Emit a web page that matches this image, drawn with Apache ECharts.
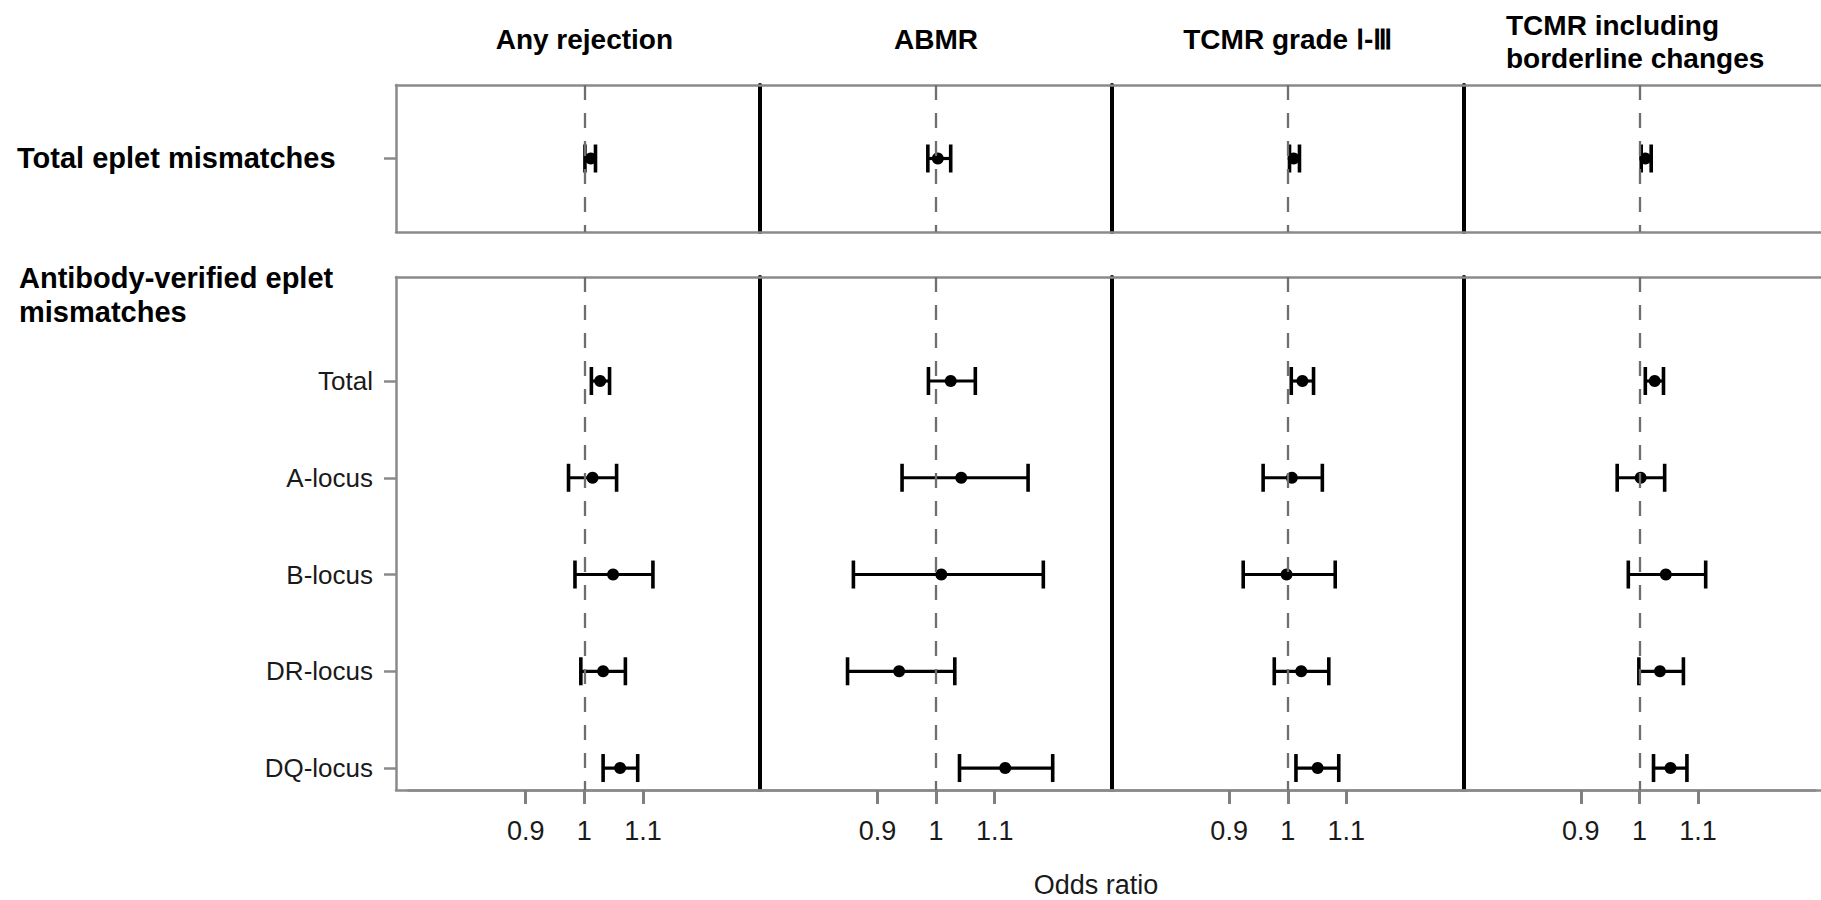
<!DOCTYPE html>
<html><head><meta charset="utf-8">
<script src="https://cdn.jsdelivr.net/npm/echarts@6/dist/echarts.min.js"></script>
<style>html,body{margin:0;padding:0;background:#fff}#c{width:1821px;height:900px}</style>
</head><body><div id="c"></div>
<script>
// ---------- data ----------
const outcomes = ['Any rejection', 'ABMR', 'TCMR grade Ⅰ-Ⅲ', 'TCMR including', 'borderline changes'];
const rows = ['Total', 'A-locus', 'B-locus', 'DR-locus', 'DQ-locus'];
const xTicks = [0.9, 1, 1.1];
const topRowLabel = 'Total eplet mismatches';
const bottomHeader = 'Antibody-verified eplet\nmismatches';
const xAxisName = 'Odds ratio';
const referenceOR = 1;

// Total eplet mismatches: one estimate per outcome
const totalEpletOR = [1.011, 1.003, 1.010, 1.010];
const totalEpletLo = [1.001, 0.986, 1.003, 1.003];
const totalEpletHi = [1.019, 1.025, 1.020, 1.020];

// Antibody-verified eplet mismatches (rows: Total, A, B, DR, DQ)
const anyRejOR = [1.027, 1.014, 1.049, 1.032, 1.061];
const anyRejLo = [1.012, 0.973, 0.984, 0.994, 1.032];
const anyRejHi = [1.043, 1.055, 1.117, 1.070, 1.091];

const abmrOR = [1.025, 1.043, 1.009, 0.937, 1.118];
const abmrLo = [0.987, 0.942, 0.859, 0.849, 1.040];
const abmrHi = [1.067, 1.157, 1.183, 1.032, 1.199];

const tcmrOR = [1.025, 1.007, 0.998, 1.023, 1.051];
const tcmrLo = [1.006, 0.958, 0.924, 0.977, 1.014];
const tcmrHi = [1.044, 1.059, 1.081, 1.070, 1.087];

const tcmrBlOR = [1.026, 1.002, 1.045, 1.035, 1.053];
const tcmrBlLo = [1.010, 0.962, 0.981, 0.999, 1.024];
const tcmrBlHi = [1.041, 1.043, 1.113, 1.075, 1.081];

// ---------- layout / style ----------
const FONT = '"Liberation Sans", Arial, Helvetica, sans-serif';
const GRAY = '#8a8a8a';
const FRAME_L = 396;
const P0 = 408.5, PW = 351.7;
const TOP_T = 85, TOP_H = 147;
const BOT_T = 277, BOT_H = 513;
const X_MIN = 0.7, X_MAX = 1.3;
const TOP_YMIN = -1, TOP_YMAX = 1;
const BOT_YMIN = -1.075, BOT_YMAX = 4.227;

const avOR = [anyRejOR, abmrOR, tcmrOR, tcmrBlOR];
const avLo = [anyRejLo, abmrLo, tcmrLo, tcmrBlLo];
const avHi = [anyRejHi, abmrHi, tcmrHi, tcmrBlHi];

const grid = [], xAxis = [], yAxis = [], series = [];

// frame grids (0: top, 1: bottom)
grid.push({left: FRAME_L, right: 0, top: TOP_T, height: TOP_H});
grid.push({left: FRAME_L, right: 0, top: BOT_T, height: BOT_H});
const frameLine = {show: true, onZero: false, lineStyle: {color: GRAY, width: 2.5}};
const noX = (gi, pos) => ({type: 'value', gridIndex: gi, position: pos, min: 0, max: 1,
  axisLine: frameLine, axisTick: {show: false}, axisLabel: {show: false}, splitLine: {show: false}});
xAxis.push(noX(0, 'top'), noX(0, 'bottom'), noX(1, 'top'), noX(1, 'bottom'));
yAxis.push({type: 'value', gridIndex: 0, inverse: true, min: TOP_YMIN, max: TOP_YMAX,
  axisLine: frameLine, splitLine: {show: false},
  axisTick: {show: true, length: 12, customValues: [0], lineStyle: {color: GRAY, width: 2.5}},
  axisLabel: {show: false}});
yAxis.push({type: 'value', gridIndex: 1, inverse: true, min: BOT_YMIN, max: BOT_YMAX,
  axisLine: frameLine, splitLine: {show: false},
  axisTick: {show: true, length: 12, customValues: [0, 1, 2, 3, 4], lineStyle: {color: GRAY, width: 2.5}},
  axisLabel: {show: true, customValues: [0, 1, 2, 3, 4], margin: 23,
    formatter: v => rows[Math.round(v)], fontSize: 26, color: '#1a1a1a', fontFamily: FONT}});

function errRender(params, api) {
  const lo = api.value(0), y = api.value(1), hi = api.value(2);
  const a = api.coord([lo, y]), b = api.coord([hi, y]);
  const h = 14;
  return {type: 'group', children: [
    {type: 'line', shape: {x1: a[0], y1: a[1], x2: b[0], y2: b[1]}, style: {stroke: '#000', lineWidth: 3.2}},
    {type: 'line', shape: {x1: a[0], y1: a[1] - h, x2: a[0], y2: a[1] + h}, style: {stroke: '#000', lineWidth: 3.6}},
    {type: 'line', shape: {x1: b[0], y1: b[1] - h, x2: b[0], y2: b[1] + h}, style: {stroke: '#000', lineWidth: 3.6}}
  ]};
}

for (let p = 0; p < 4; p++) {
  const left = P0 + p * PW;
  const gTop = grid.length; grid.push({left: left, width: PW, top: TOP_T, height: TOP_H});
  const gBot = grid.length; grid.push({left: left, width: PW, top: BOT_T, height: BOT_H});

  const xTop = xAxis.length;
  xAxis.push({type: 'value', gridIndex: gTop, min: X_MIN, max: X_MAX, show: false});
  const xBot = xAxis.length;
  xAxis.push({type: 'value', gridIndex: gBot, min: X_MIN, max: X_MAX, position: 'bottom',
    axisLine: {show: true, onZero: false, lineStyle: {color: GRAY, width: 2.5}}, splitLine: {show: false},
    axisTick: {show: true, inside: false, length: 14, customValues: xTicks, lineStyle: {color: '#808080', width: 3}},
    axisLabel: {show: true, customValues: xTicks, margin: 27, fontSize: 27, color: '#1a1a1a', fontFamily: FONT,
      formatter: v => String(Math.round(v * 10) / 10)}});

  const divider = p < 3;
  const yTop = yAxis.length;
  yAxis.push({type: 'value', gridIndex: gTop, position: 'right', inverse: true, min: TOP_YMIN, max: TOP_YMAX,
    axisLine: {show: divider, onZero: false, lineStyle: {color: '#000', width: 4}},
    axisTick: {show: false}, axisLabel: {show: false}, splitLine: {show: false}});
  const yBot = yAxis.length;
  yAxis.push({type: 'value', gridIndex: gBot, position: 'right', inverse: true, min: BOT_YMIN, max: BOT_YMAX,
    axisLine: {show: divider, onZero: false, lineStyle: {color: '#000', width: 4}},
    axisTick: {show: false}, axisLabel: {show: false}, splitLine: {show: false}});

  const refLine = {silent: true, symbol: 'none', label: {show: false},
    lineStyle: {color: '#6e6e6e', width: 2.3, type: [15, 13]}, data: [{xAxis: referenceOR}]};

  series.push({type: 'line', xAxisIndex: xTop, yAxisIndex: yTop, data: [], z: 1, markLine: refLine});
  series.push({type: 'line', xAxisIndex: xBot, yAxisIndex: yBot, data: [], z: 1, markLine: refLine});

  series.push({type: 'custom', xAxisIndex: xTop, yAxisIndex: yTop, z: 3, renderItem: errRender,
    data: [[totalEpletLo[p], 0, totalEpletHi[p]]]});
  series.push({type: 'scatter', xAxisIndex: xTop, yAxisIndex: yTop, z: 4, symbolSize: 12,
    itemStyle: {color: '#000', opacity: 1}, data: [[totalEpletOR[p], 0]]});

  series.push({type: 'custom', xAxisIndex: xBot, yAxisIndex: yBot, z: 3, renderItem: errRender,
    data: rows.map((r, i) => [avLo[p][i], i, avHi[p][i]])});
  series.push({type: 'scatter', xAxisIndex: xBot, yAxisIndex: yBot, z: 4, symbolSize: 12,
    itemStyle: {color: '#000', opacity: 1}, data: rows.map((r, i) => [avOR[p][i], i])});
}

const titleFont = 'bold 28px ' + FONT, headFont = 'bold 29px ' + FONT, regFont = '27px ' + FONT;
const centerOf = p => P0 + p * PW + PW / 2;
const graphic = [
  {type: 'text', x: centerOf(0), y: 39, style: {text: outcomes[0], font: titleFont, fill: '#000', align: 'center', verticalAlign: 'middle'}},
  {type: 'text', x: centerOf(1), y: 39, style: {text: outcomes[1], font: titleFont, fill: '#000', align: 'center', verticalAlign: 'middle'}},
  {type: 'text', x: centerOf(2), y: 39, style: {text: outcomes[2], font: titleFont, fill: '#000', align: 'center', verticalAlign: 'middle'}},
  {type: 'text', x: 1506, y: 25, style: {text: outcomes[3], font: titleFont, fill: '#000', align: 'left', verticalAlign: 'middle'}},
  {type: 'text', x: 1506, y: 58, style: {text: outcomes[4], font: titleFont, fill: '#000', align: 'left', verticalAlign: 'middle'}},
  {type: 'text', x: 17, y: 158, style: {text: topRowLabel, font: headFont, fill: '#000', align: 'left', verticalAlign: 'middle'}},
  {type: 'text', x: 19, y: 295, style: {text: bottomHeader, font: headFont, fill: '#000', align: 'left', verticalAlign: 'middle', lineHeight: 34}},
  {type: 'text', x: 1096, y: 885, style: {text: xAxisName, font: regFont, fill: '#1a1a1a', align: 'center', verticalAlign: 'middle'}}
];

const chart = echarts.init(document.getElementById('c'), null, {renderer: 'svg'});
chart.setOption({animation: false, backgroundColor: '#fff', textStyle: {fontFamily: FONT},
  grid: grid, xAxis: xAxis, yAxis: yAxis, series: series, graphic: graphic});
</script></body></html>
